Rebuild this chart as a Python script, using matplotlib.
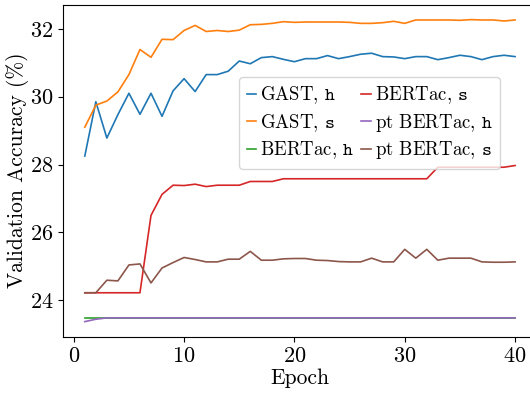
import numpy as np
import matplotlib
matplotlib.use("Agg")
import matplotlib.pyplot as plt

plt.rcParams['font.family'] = ['cmr10', 'DejaVu Serif']
plt.rcParams['mathtext.fontset'] = 'cm'
plt.rcParams['axes.formatter.use_mathtext'] = True
plt.rcParams['font.size'] = 16

epochs = np.arange(1, 41)

gast_h = [28.25, 29.85, 28.78, 29.47, 30.10, 29.48, 30.10, 29.42, 30.17, 30.53,
          30.15, 30.65, 30.65, 30.75, 31.05, 30.97, 31.15, 31.18, 31.10, 31.03,
          31.12, 31.12, 31.21, 31.12, 31.18, 31.25, 31.28, 31.18, 31.17, 31.12,
          31.18, 31.18, 31.09, 31.15, 31.22, 31.18, 31.09, 31.18, 31.22, 31.18]
gast_s = [29.10, 29.75, 29.87, 30.14, 30.65, 31.39, 31.16, 31.69, 31.68, 31.95,
          32.10, 31.92, 31.95, 31.92, 31.96, 32.12, 32.13, 32.16, 32.21, 32.19,
          32.20, 32.20, 32.20, 32.20, 32.19, 32.16, 32.16, 32.18, 32.22, 32.16,
          32.26, 32.26, 32.26, 32.26, 32.25, 32.27, 32.26, 32.26, 32.23, 32.26]
bertac_h = [23.48] * 40
bertac_s = [24.22, 24.22, 24.22, 24.22, 24.22, 24.22, 26.50, 27.12, 27.39, 27.38,
            27.42, 27.35, 27.39, 27.39, 27.39, 27.50, 27.50, 27.50, 27.58, 27.58,
            27.58, 27.58, 27.58, 27.58, 27.58, 27.58, 27.58, 27.58, 27.58, 27.58,
            27.58, 27.58, 27.92, 27.92, 27.92, 27.92, 27.92, 27.92, 27.92, 27.97]
pt_bertac_h = [23.37, 23.44] + [23.48] * 38
pt_bertac_s = [24.22, 24.22, 24.59, 24.57, 25.04, 25.07, 24.51, 24.95, 25.11, 25.26,
               25.20, 25.13, 25.13, 25.21, 25.21, 25.44, 25.18, 25.18, 25.22, 25.23,
               25.23, 25.18, 25.17, 25.14, 25.13, 25.13, 25.24, 25.13, 25.13, 25.50,
               25.24, 25.50, 25.18, 25.24, 25.24, 25.24, 25.13, 25.12, 25.12, 25.13]

series = [
    (gast_h, r'GAST, $\mathtt{h}$'),
    (gast_s, r'GAST, $\mathtt{s}$'),
    (bertac_h, r'BERTac, $\mathtt{h}$'),
    (bertac_s, r'BERTac, $\mathtt{s}$'),
    (pt_bertac_h, r'pt BERTac, $\mathtt{h}$'),
    (pt_bertac_s, r'pt BERTac, $\mathtt{s}$'),
]

fig = plt.figure(figsize=(5.3, 3.94), dpi=100)
ax = fig.add_axes([0.1194, 0.1454, 0.893, 0.8431])

for vals, lab in series:
    ax.plot(epochs, vals, linewidth=1.2, label=lab)

ax.set_xticks([0, 10, 20, 30, 40])
ax.set_yticks([24, 26, 28, 30, 32])
ax.set_xlabel('Epoch', fontsize=15.5, labelpad=2)
ax.set_ylabel('Validation Accuracy (%)', fontsize=15.5, labelpad=1)

ax.legend(ncol=2, fontsize=13.5, loc='upper right', bbox_to_anchor=(0.923, 0.782),
          borderaxespad=0, handlelength=0.5, handletextpad=0.2,
          columnspacing=0.4, labelspacing=0.3)

fig.savefig('out.png', dpi=100)
